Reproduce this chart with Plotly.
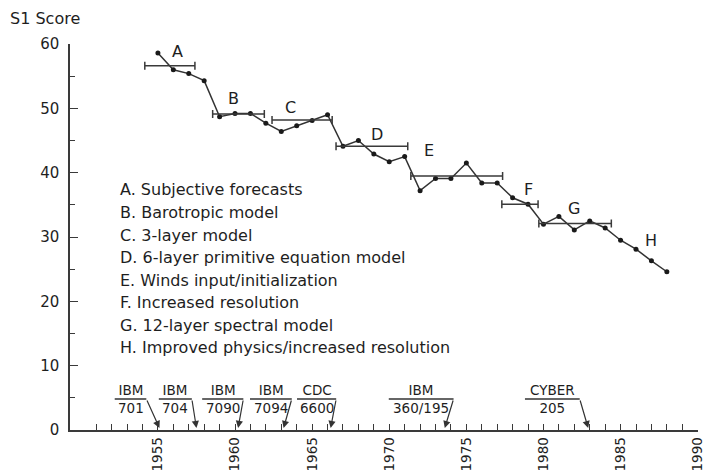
import plotly.graph_objects as go

# ---------------- data ----------------
years = list(range(1955, 1989))
s1_score = [58.6, 56.0, 55.4, 54.3, 48.7, 49.2, 49.2, 47.7, 46.4, 47.3,
            48.1, 49.0, 44.1, 45.0, 42.9, 41.7, 42.5, 37.2, 39.1, 39.1,
            41.5, 38.4, 38.4, 36.1, 35.1, 32.0, 33.2, 31.1, 32.5, 31.4,
            29.5, 28.1, 26.3, 24.6]

era_letters = ["A", "B", "C", "D", "E", "F", "G", "H"]
era_descriptions = [
    "Subjective forecasts",
    "Barotropic model",
    "3-layer model",
    "6-layer primitive equation model",
    "Winds input/initialization",
    "Increased resolution",
    "12-layer spectral model",
    "Improved physics/increased resolution",
]
# era averages (A..G), start / end year and mean level
era_start = [1954.15, 1958.55, 1962.4, 1966.55, 1971.4, 1977.3, 1979.7]
era_end = [1957.4, 1961.9, 1966.3, 1971.2, 1977.35, 1979.65, 1984.4]
era_level = [56.6, 49.1, 48.2, 44.1, 39.5, 35.1, 32.1]

computer_make = ["IBM", "IBM", "IBM", "IBM", "CDC", "IBM", "CYBER"]
computer_model = ["701", "704", "7090", "7094", "6600", "360/195", "205"]
computer_year = [1955.1, 1957.5, 1960.2, 1963.15, 1966.2, 1973.6, 1982.9]

x_tick_years = list(range(1955, 1991, 5))
x_minor_years = list(range(1951, 1991))
y_tick_values = list(range(0, 61, 10))

# ---------------- layout positions (not data) ----------------
era_label_pos = [(1956.3, 58.8), (1959.9, 51.5), (1963.6, 50.1), (1969.2, 45.9),
                 (1972.6, 43.5), (1979.0, 37.4), (1982.0, 34.4), (1987.0, 29.5)]
computer_label_span = [(1952.2, 1954.25), (1955.06, 1957.2), (1957.87, 1960.54),
                       (1960.97, 1963.68), (1964.02, 1966.56), (1969.97, 1974.17),
                       (1978.8, 1982.35)]
computer_label_y = 4.82
legend_x = 1952.4
legend_top = 37.31
legend_step = 3.5

INK = "#1e1e1e"
LINE = "#333333"
FONT = "DejaVu Sans"

fig = go.Figure()

# main series
fig.add_trace(go.Scatter(
    x=years, y=s1_score, mode="lines+markers",
    line=dict(color=LINE, width=1.5),
    marker=dict(color="#1a1a1a", size=5),
    hoverinfo="x+y", showlegend=False,
))

# era mean bars
mid = [(a + b) / 2 for a, b in zip(era_start, era_end)]
half = [(b - a) / 2 for a, b in zip(era_start, era_end)]
fig.add_trace(go.Scatter(
    x=mid, y=era_level, mode="markers",
    marker=dict(size=1, color="rgba(0,0,0,0)"),
    error_x=dict(type="data", array=half, symmetric=True,
                 color="#3a3a3a", thickness=1.5, width=4),
    hoverinfo="skip", showlegend=False,
))

annotations = []
# era letters
for letter, (lx, ly) in zip(era_letters, era_label_pos):
    annotations.append(dict(x=lx, y=ly, xref="x", yref="y", text=letter,
                            showarrow=False, font=dict(family=FONT, size=16, color=INK)))

# legend text
for i, (letter, desc) in enumerate(zip(era_letters, era_descriptions)):
    annotations.append(dict(x=legend_x, y=legend_top - i * legend_step, xref="x", yref="y",
                            text=f"{letter}. {desc}", showarrow=False, xanchor="left",
                            yanchor="middle",
                            font=dict(family=FONT, size=16, color=INK)))

shapes = []
# computers
for make, model, yr, (x0, x1) in zip(computer_make, computer_model, computer_year,
                                     computer_label_span):
    shapes.append(dict(type="line", xref="x", yref="y", x0=x0, x1=x1,
                       y0=computer_label_y, y1=computer_label_y,
                       line=dict(color=LINE, width=1.3)))
    annotations.append(dict(x=yr, y=0.3, ax=x1, ay=computer_label_y,
                            xref="x", yref="y", axref="x", ayref="y",
                            text="", showarrow=True, arrowhead=2, arrowsize=1.2,
                            arrowwidth=1.2, arrowcolor=LINE))
    annotations.append(dict(x=(x0 + x1) / 2, y=computer_label_y, xref="x", yref="y",
                            text=f"{make}<br>{model}", showarrow=False,
                            xanchor="center", yanchor="middle",
                            font=dict(family=FONT, size=13.5, color=INK)))

# y axis title
annotations.append(dict(x=-0.0397, y=1.0648, xref="paper", yref="paper",
                        text="S1 Score", showarrow=False, xanchor="center",
                        yanchor="middle", font=dict(family=FONT, size=16, color=INK)))

fig.update_layout(
    width=705, height=472,
    margin=dict(l=70, r=7, t=44, b=42, autoexpand=False),
    paper_bgcolor="white", plot_bgcolor="white",
    font=dict(family=FONT, color=INK),
    annotations=annotations, shapes=shapes,
    showlegend=False,
)

fig.update_xaxes(
    range=[1949.3, 1990.02], showgrid=False, zeroline=False, automargin=False,
    showline=True, linecolor="#3a3a3a", linewidth=1.5,
    tickmode="array", tickvals=x_tick_years, ticktext=[str(v) for v in x_tick_years],
    tickangle=-90, ticks="inside", ticklen=6, tickwidth=1.2, tickcolor="#3a3a3a",
    ticklabeloverflow="allow",
    tickfont=dict(family=FONT, size=13.5, color=INK),
    minor=dict(tickmode="array", tickvals=x_minor_years, ticks="inside", ticklen=6,
               tickwidth=1.2, tickcolor="#3a3a3a"),
)
fig.update_yaxes(
    range=[0, 60], showgrid=False, zeroline=False, automargin=False,
    showline=True, linecolor="#3a3a3a", linewidth=1.5,
    tickmode="array", tickvals=y_tick_values,
    ticks="inside", ticklen=8, tickwidth=1.2, tickcolor="#3a3a3a",
    ticklabelstandoff=6,
    tickfont=dict(family=FONT, size=15, color=INK),
    minor=dict(tickmode="array", tickvals=[5, 15, 25, 35, 45, 55], ticks="inside",
               ticklen=5, tickwidth=1.2, tickcolor="#3a3a3a"),
)

fig.write_html("out.html")
